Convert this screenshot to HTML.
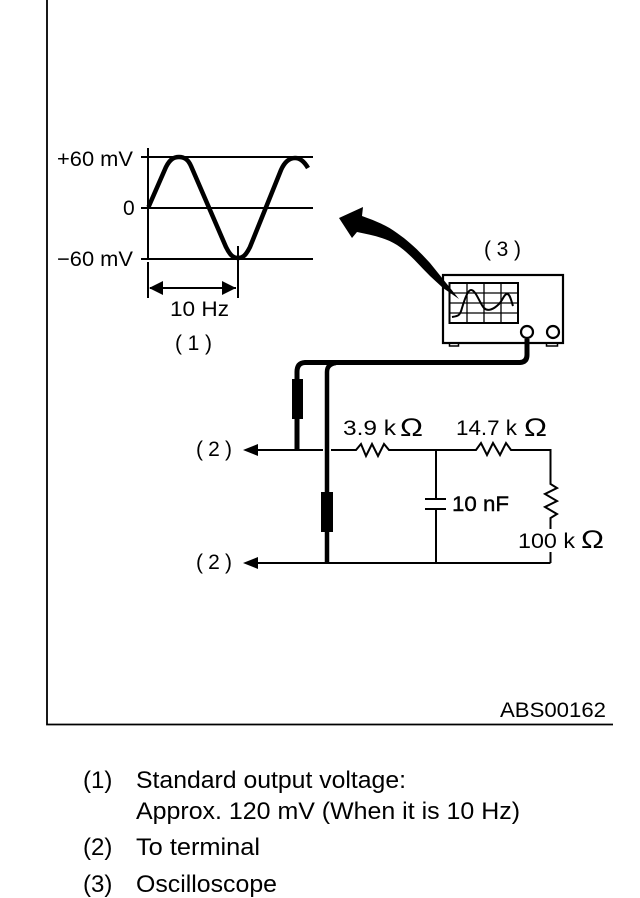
<!DOCTYPE html>
<html><head><meta charset="utf-8"><style>
html,body{margin:0;padding:0;background:#fff}
svg{display:block}
text{font-family:"Liberation Sans",sans-serif;fill:#000}
</style></head><body>
<svg width="640" height="898" viewBox="0 0 640 898" xmlns="http://www.w3.org/2000/svg">
<rect width="640" height="898" fill="#fff"/>
<path d="M47 0V724.500H613" fill="none" stroke="#000" stroke-width="1.800"/>
<g fill="none" stroke="#000">
<path d="M141 157H313M141 208H313M141 259H313" stroke-width="2"/>
<path d="M148 148V259M148 262V298M238 246V298M150 288H236" stroke-width="2"/>
<path d="M148.500 207L166 167C170 159 174 157 179 157C184 157 188 159 191 166L226 247C230 255 233 258 238 258C243 258 246 255 250 247L281 170C285 161 290 158 295 158C300 158 304 161 308 168" stroke-width="4.500"/>
<rect x="443" y="275" width="120" height="68" stroke-width="2.200"/>
<rect x="449.500" y="283" width="68.500" height="40" stroke-width="2"/>
<path d="M467 283V323M484 283V323M501 283V323M449 293H518M449 303H518M449 313H518" stroke-width="1.300"/>
<path d="M452 317C458 316 460 316 462 308C465 298 468 290 471 290C476 290 480 304 484 308C488 312 494 309 499 304C503 300 504 294 507 294C510 294 511 300 513 306" stroke-width="2"/>
<circle cx="527" cy="332" r="6" stroke-width="2.200"/>
<circle cx="553" cy="332" r="6" stroke-width="2.200"/>
<rect x="449.500" y="343" width="9" height="3" stroke-width="1.500"/>
<rect x="546.500" y="343" width="11" height="3" stroke-width="1.500"/>
<path d="M527 339V355Q527 362 520 362.500H305Q297 363 297 372V450" stroke-width="5"/>
<path d="M327 563V372Q327 364 336 363" stroke-width="4.500"/>
<path d="M250 450H323M331 450H356L361 444L366 456L372 444L378 456L384 444L389 450H436M436 450V499M436 509V563M425 499H446M425 509H446M250 563H550.500" stroke-width="2"/>
<path d="M436 450H476L481 443L487 455L493 443L500 455L506 443L511 450H550.500V484L557 488L545 494L557 501L545 507L557 514L550.500 518V529M550.500 552V563" stroke-width="2"/>
</g>
<rect x="292" y="379" width="11" height="40" fill="#000"/>
<rect x="321" y="492" width="12" height="40" fill="#000"/>
<path d="M149 288L163 281V295ZM236 288L222 281V295ZM243 450L258 444V456ZM243 563L258 557V569Z" fill="#000"/>
<path d="M339 218L363 207L362 216C376 221 388 226 397 233C410 242 420 252 430 263L459 299L443 288L430 276C420 266 408 252 397 245C386 238 372 235 357 232L352 238Z" fill="#000"/>
<g font-size="21">
<text x="57" y="166" textLength="76" lengthAdjust="spacingAndGlyphs">+60 mV</text>
<text x="123" y="215">0</text>
<text x="57" y="266" textLength="76" lengthAdjust="spacingAndGlyphs">−60 mV</text>
<text x="170" y="316" textLength="59" lengthAdjust="spacingAndGlyphs">10 Hz</text>
<text x="175" y="350" textLength="37">( 1 )</text>
<text x="484" y="256" textLength="37">( 3 )</text>
<text x="196" y="456" textLength="36">( 2 )</text>
<text x="196" y="569" textLength="36">( 2 )</text>
<text x="343" y="435" textLength="53" lengthAdjust="spacingAndGlyphs">3.9 k</text>
<text x="400" y="436" font-size="25" textLength="23" lengthAdjust="spacingAndGlyphs">Ω</text>
<text x="456" y="435" textLength="61" lengthAdjust="spacingAndGlyphs">14.7 k</text>
<text x="524" y="436" font-size="25" textLength="23" lengthAdjust="spacingAndGlyphs">Ω</text>
<text x="452" y="511" stroke="#000" stroke-width=".4" textLength="57" lengthAdjust="spacingAndGlyphs">10 nF</text>
<text x="518" y="548" textLength="57" lengthAdjust="spacingAndGlyphs">100 k</text>
<text x="581" y="548" font-size="25" textLength="23" lengthAdjust="spacingAndGlyphs">Ω</text>
<text x="500" y="717" textLength="106" lengthAdjust="spacingAndGlyphs">ABS00162</text>
</g>
<g font-size="24">
<text x="83" y="788">(1)</text>
<text x="136" y="788" textLength="270" lengthAdjust="spacingAndGlyphs">Standard output voltage:</text>
<text x="136" y="819" textLength="384" lengthAdjust="spacingAndGlyphs">Approx. 120 mV (When it is 10 Hz)</text>
<text x="83" y="855">(2)</text>
<text x="136" y="855" textLength="124" lengthAdjust="spacingAndGlyphs">To terminal</text>
<text x="83" y="892">(3)</text>
<text x="136" y="892" textLength="141" lengthAdjust="spacingAndGlyphs">Oscilloscope</text>
</g>
</svg>
</body></html>
